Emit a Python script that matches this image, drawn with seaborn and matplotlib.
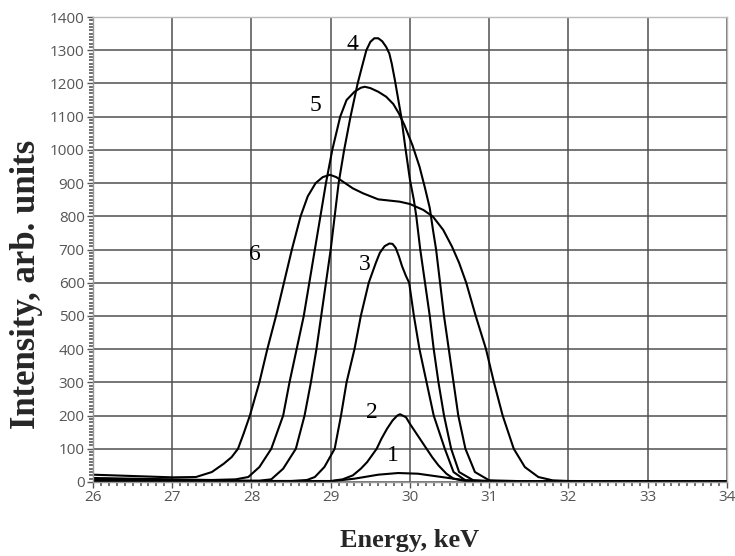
import matplotlib
matplotlib.use("Agg")
import matplotlib.pyplot as plt
import seaborn as sns
import pandas as pd
from matplotlib.ticker import MultipleLocator

# ---- data ----
c1_x = [26.0, 28.0, 29.0, 29.3, 29.6, 29.85, 30.1, 30.4, 30.7, 31.0, 34.0]
c1_y = [3, 2, 2, 10, 22, 27, 25, 15, 5, 2, 1]

c2_x = [26.0, 28.0, 29.0, 29.15, 29.28, 29.38, 29.46, 29.52, 29.58, 29.64, 29.71,
        29.78, 29.84, 29.875, 29.95, 30.0, 30.07, 30.14, 30.21, 30.28, 30.36,
        30.46, 30.55, 30.7, 31.0, 34.0]
c2_y = [5, 3, 3, 8, 20, 40, 60, 80, 100, 130, 160, 185, 200, 204, 195, 175, 150,
        125, 100, 75, 50, 25, 10, 3, 2, 1]

c3_x = [26.0, 27.0, 28.0, 28.5, 28.7, 28.8, 28.92, 29.05, 29.13, 29.2, 29.3, 29.38,
        29.48, 29.57, 29.62, 29.68, 29.74, 29.78, 29.82, 29.86, 29.9, 29.95, 29.99,
        30.05, 30.12, 30.21, 30.3, 30.44, 30.55, 30.7, 31.0, 34.0]
c3_y = [8, 5, 3, 3, 6, 15, 45, 100, 200, 300, 400, 500, 600, 660, 690, 710, 718,
        717, 705, 680, 650, 620, 600, 500, 400, 300, 200, 100, 30, 5, 2, 1]

c4_x = [26.0, 27.0, 27.8, 28.1, 28.25, 28.4, 28.56, 28.67, 28.75, 28.82, 28.88,
        28.94, 29.0, 29.05, 29.1, 29.17, 29.25, 29.34, 29.4, 29.45, 29.5, 29.55,
        29.6, 29.65, 29.7, 29.74, 29.77, 29.81, 29.85, 29.89, 29.94, 30.0, 30.05,
        30.08, 30.13, 30.19, 30.25, 30.3, 30.36, 30.43, 30.52, 30.62, 30.8, 31.2,
        34.0]
c4_y = [10, 6, 4, 4, 8, 40, 100, 200, 300, 400, 500, 600, 700, 800, 900, 1000,
        1100, 1200, 1255, 1300, 1325, 1336, 1336, 1327, 1310, 1290, 1260, 1210,
        1155, 1100, 1010, 910, 848, 800, 700, 600, 500, 400, 300, 200, 100, 30, 5,
        2, 1]

c5_x = [26.0, 27.0, 27.5, 27.8, 27.96, 28.1, 28.25, 28.4, 28.48, 28.57, 28.66,
        28.73, 28.8, 28.87, 28.94, 29.02, 29.12, 29.2, 29.3, 29.38, 29.43, 29.5,
        29.6, 29.7, 29.79, 29.86, 29.93, 30.03, 30.12, 30.19, 30.25, 30.29, 30.33,
        30.38, 30.43, 30.49, 30.55, 30.61, 30.7, 30.82, 31.0, 31.5, 34.0]
c5_y = [12, 8, 6, 8, 15, 45, 100, 200, 300, 400, 500, 600, 700, 800, 900, 1000,
        1100, 1150, 1175, 1187, 1190, 1186, 1175, 1160, 1138, 1110, 1075, 1015, 950,
        885, 825, 760, 700, 600, 500, 400, 300, 200, 100, 30, 5, 2, 1]

c6_x = [26.0, 26.5, 27.0, 27.3, 27.5, 27.65, 27.75, 27.83, 27.9, 27.98, 28.1, 28.2,
        28.31, 28.41, 28.51, 28.62, 28.71, 28.81, 28.9, 28.99, 29.07, 29.15, 29.28,
        29.41, 29.6, 29.87, 30.0, 30.17, 30.29, 30.42, 30.53, 30.62, 30.71, 30.83,
        30.96, 31.06, 31.17, 31.31, 31.45, 31.62, 31.8, 32.0, 33.0, 34.0]
c6_y = [22, 18, 14, 15, 30, 55, 75, 100, 145, 200, 300, 400, 500, 600, 700, 800,
        860, 900, 918, 925, 918, 905, 884, 869, 851, 844, 837, 819, 799, 759, 709,
        660, 600, 500, 400, 300, 200, 100, 45, 15, 5, 3, 2, 2]

curve_names = ["1", "2", "3", "4", "5", "6"]
label_x = [29.79, 29.52, 29.43, 29.28, 28.81, 28.04]
label_y = [81, 208, 654, 1316, 1135, 684]

x_ticks = [26, 27, 28, 29, 30, 31, 32, 33, 34]
y_ticks = list(range(0, 1401, 100))

xs = [c1_x, c2_x, c3_x, c4_x, c5_x, c6_x]
ys = [c1_y, c2_y, c3_y, c4_y, c5_y, c6_y]
frames = []
for name, x, y in zip(curve_names, xs, ys):
    frames.append(pd.DataFrame({"energy": x, "intensity": y, "curve": name}))
df = pd.concat(frames, ignore_index=True)

# ---- plot ----
sns.set_style("white")
fig = plt.figure(figsize=(7.35, 5.56), dpi=100)
ax = fig.add_axes([0.1265, 0.1331, 0.8625, 0.8363])

sns.lineplot(data=df, x="energy", y="intensity", units="curve", estimator=None,
             sort=False, color="black", linewidth=1.5, ax=ax, legend=False)

ax.set_xlim(26, 34)
ax.set_ylim(0, 1400)
ax.set_xticks(x_ticks)
ax.set_yticks(y_ticks)
ax.xaxis.set_minor_locator(MultipleLocator(0.1))
ax.yaxis.set_minor_locator(MultipleLocator(10))
ax.grid(True, which="major", color="#505050", linewidth=1.1)
ax.set_axisbelow(True)

for side in ["left", "bottom"]:
    ax.spines[side].set_color("#999999")
    ax.spines[side].set_linewidth(1.0)
for side in ["top", "right"]:
    ax.spines[side].set_color("#bbbbbb")
    ax.spines[side].set_linewidth(1.0)

ax.tick_params(axis="both", which="both", bottom=True, left=True,
               top=False, right=False, direction="out")
ax.tick_params(axis="both", which="major", length=4, width=1, color="#555555",
               labelsize=11, labelcolor="#555555", pad=2)
ax.tick_params(axis="both", which="minor", length=3, width=1.3, color="#666666")
for lab in ax.get_xticklabels() + ax.get_yticklabels():
    lab.set_family("Open Sans")

ax.set_xlabel("Energy, keV", fontsize=19, fontweight="bold",
              family="Liberation Serif", labelpad=17)
ax.set_ylabel("Intensity, arb. units", fontsize=25, fontweight="bold",
              family="Liberation Serif")
ax.yaxis.set_label_coords(-0.079, 0.424)

for name, lx, ly in zip(curve_names, label_x, label_y):
    ax.text(lx, ly, name, fontsize=17, family="Liberation Serif",
            ha="center", va="center", color="black")

fig.savefig("out.png", dpi=100)
